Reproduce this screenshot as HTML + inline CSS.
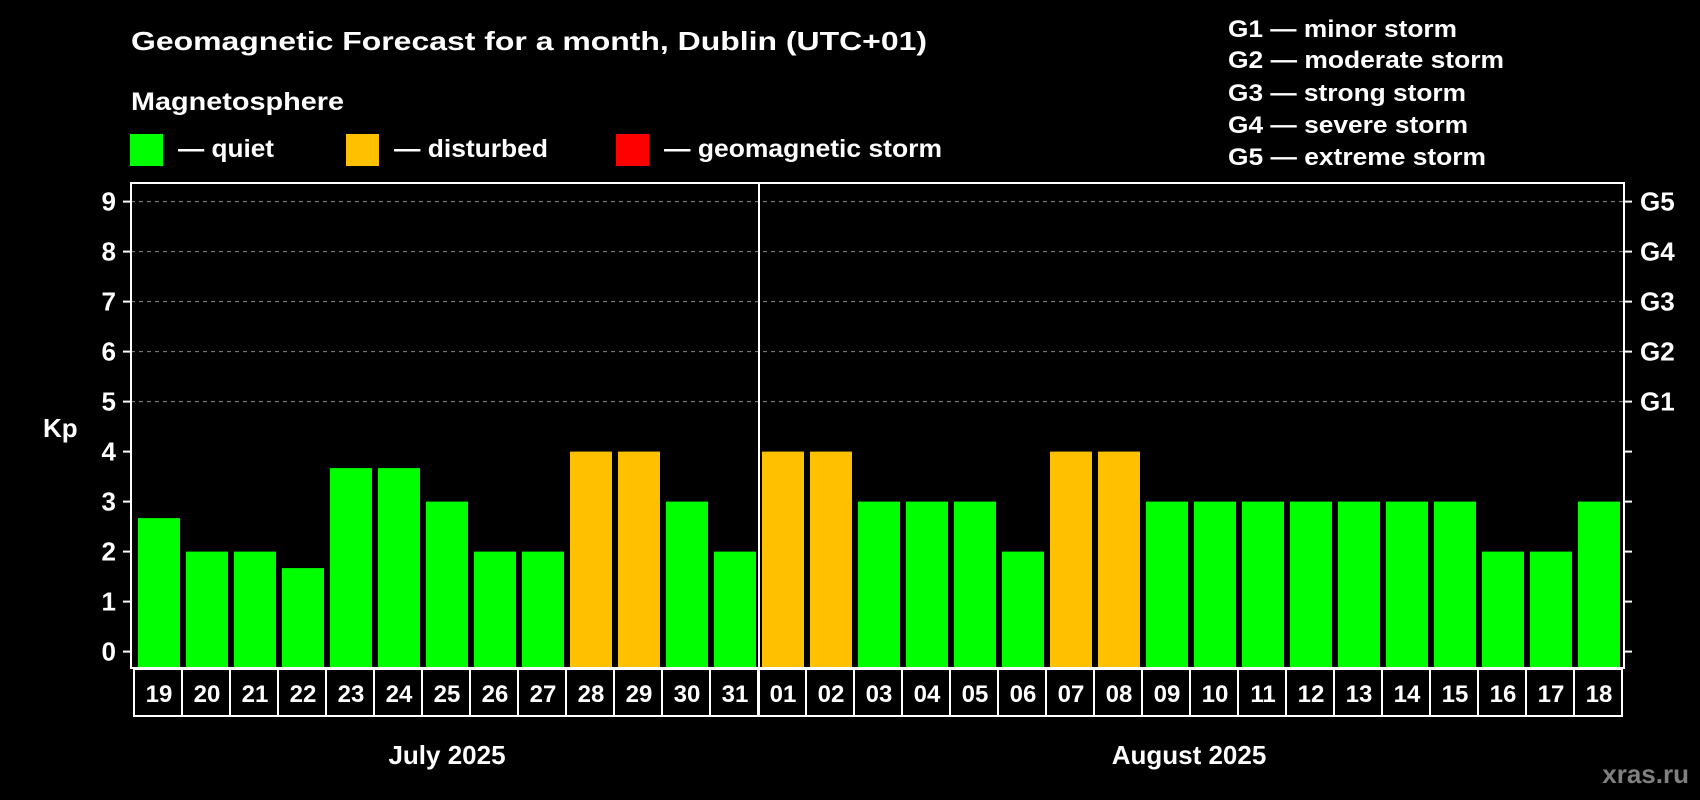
<!DOCTYPE html>
<html><head><meta charset="utf-8"><style>
html,body{margin:0;padding:0;background:#000;}
svg{display:block;font-family:"Liberation Sans",sans-serif;font-weight:bold;}
</style></head><body>
<svg id="chart" width="1700" height="800" viewBox="0 0 1700 800" xmlns="http://www.w3.org/2000/svg">
<rect width="1700" height="800" fill="#000"/>
<text x="131" y="50" font-size="26" fill="#fff" textLength="796" lengthAdjust="spacingAndGlyphs">Geomagnetic Forecast for a month, Dublin (UTC+01)</text>
<text x="131" y="110" font-size="25" fill="#fff" textLength="213" lengthAdjust="spacingAndGlyphs">Magnetosphere</text>
<g><rect x="130" y="134" width="33" height="32" fill="#00ff00"/><text x="178" y="157" font-size="25" fill="#fff" textLength="96" lengthAdjust="spacingAndGlyphs">— quiet</text></g>
<g><rect x="346" y="134" width="33" height="32" fill="#ffc000"/><text x="394" y="157" font-size="25" fill="#fff" textLength="154" lengthAdjust="spacingAndGlyphs">— disturbed</text></g>
<g><rect x="616" y="134" width="33" height="32" fill="#ff0000"/><text x="664" y="157" font-size="25" fill="#fff" textLength="278" lengthAdjust="spacingAndGlyphs">— geomagnetic storm</text></g>
<g font-size="24" fill="#fff">
<text x="1228" y="37" textLength="229" lengthAdjust="spacingAndGlyphs">G1 — minor storm</text>
<text x="1228" y="68" textLength="276" lengthAdjust="spacingAndGlyphs">G2 — moderate storm</text>
<text x="1228" y="101" textLength="238" lengthAdjust="spacingAndGlyphs">G3 — strong storm</text>
<text x="1228" y="133" textLength="240" lengthAdjust="spacingAndGlyphs">G4 — severe storm</text>
<text x="1228" y="165" textLength="258" lengthAdjust="spacingAndGlyphs">G5 — extreme storm</text>
</g>
<g id="grid"></g><g id="bars"></g><g id="axes"></g>
<text x="43" y="437" font-size="26" fill="#fff">Kp</text>
<text x="447" y="764" font-size="26" fill="#fff" text-anchor="middle">July 2025</text>
<text x="1189" y="764" font-size="26" fill="#fff" text-anchor="middle">August 2025</text>
<text x="1689" y="783" font-size="26" fill="#808080" text-anchor="end">xras.ru</text>
</svg>
<script>
const days = ["19","20","21","22","23","24","25","26","27","28","29","30","31","01","02","03","04","05","06","07","08","09","10","11","12","13","14","15","16","17","18"];
const kp = [2.67,2,2,1.67,3.67,3.67,3,2,2,4,4,3,2,4,4,3,3,3,2,4,4,3,3,3,3,3,3,3,2,2,3];
const yTicks = [0,1,2,3,4,5,6,7,8,9];
const gLabels = ["G1","G2","G3","G4","G5"];
const gLevels = [5,6,7,8,9];
const NS="http://www.w3.org/2000/svg";
const L=131,R=1624,T=183,B=668,x0=138,pitch=48,bw=42;
const y=v=>651.6-50*v;
const x=i=>x0+i*pitch;
function mk(tag,attrs,parent){const e=document.createElementNS(NS,tag);for(const k in attrs)e.setAttribute(k,attrs[k]);parent.appendChild(e);return e;}
const grid=document.getElementById('grid'),bars=document.getElementById('bars'),axes=document.getElementById('axes');
gLevels.forEach(v=>{const l=mk('line',{x1:L,x2:R,y1:y(v),y2:y(v),stroke:'#888','stroke-width':1,'stroke-dasharray':'4,4'},grid);

});
kp.forEach((v,i)=>{const c=v>=5?'#ff0000':(v>=4?'#ffc000':'#00ff00');
const r=mk('rect',{x:x(i),y:y(v),width:bw,height:B-y(v),fill:c},bars);

});
const fr=mk('rect',{x:L,y:T,width:R-L,height:B-T,fill:'none',stroke:'#fff','stroke-width':2},axes);


yTicks.forEach(v=>{
mk('line',{x1:L-8,x2:L,y1:y(v),y2:y(v),stroke:'#fff','stroke-width':2},axes);
mk('line',{x1:R,x2:R+8,y1:y(v),y2:y(v),stroke:'#fff','stroke-width':2},axes);
const t=mk('text',{x:116,y:y(v)+9,'font-size':26,fill:'#fff','text-anchor':'end'},axes);t.textContent=v;

});
gLevels.forEach((v,i)=>{const t=mk('text',{x:1640,y:y(v)+9,'font-size':26,fill:'#fff'},axes);t.textContent=gLabels[i];

});
days.forEach((d,i)=>{const bx=x(i)-4;
const r=mk('rect',{x:bx,y:669,width:pitch,height:47,fill:'none',stroke:'#fff','stroke-width':2},axes);


const t=mk('text',{x:x(i)+bw/2,y:702,'font-size':24,fill:'#fff','text-anchor':'middle'},axes);t.textContent=d;

});
const di=days.indexOf("01");
const dv=mk('line',{x1:x(di)-3,x2:x(di)-3,y1:T,y2:716,stroke:'#fff','stroke-width':2},axes);


</script>
</body></html>
